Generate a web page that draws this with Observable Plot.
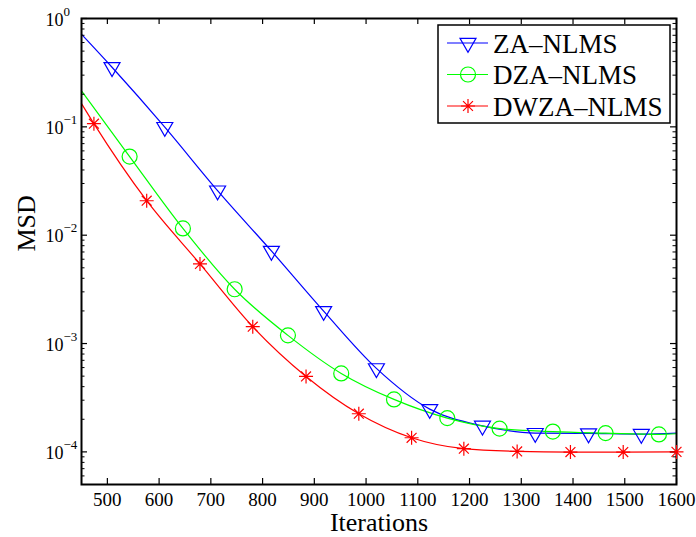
<!DOCTYPE html>
<html><head><meta charset="utf-8">
<script src="https://cdn.jsdelivr.net/npm/d3@7"></script>
<script src="https://cdn.jsdelivr.net/npm/@observablehq/plot@0.6"></script>
<style>body{margin:0;background:#fff}#chart{width:696px;height:537px}</style>
</head><body><div id="chart"></div>
<script>
// ---- data ----
const zaIter = [450, 509, 611, 713, 817, 918, 1020, 1123, 1225, 1327, 1430, 1532, 1600];
const zaMSD  = [0.715, 0.355, 0.0994, 0.0258, 0.00715, 0.00199, 0.00059, 0.000248, 0.000174, 0.000149, 0.000148, 0.000146, 0.000149];
const zaMarked = [0,1,1,1,1,1,1,1,1,1,1,1,0];

const dzaIter = [450, 543, 646, 746, 849, 952, 1054, 1157, 1258, 1361, 1463, 1566, 1600];
const dzaMSD  = [0.215, 0.0532, 0.01155, 0.00317, 0.00119, 0.00053, 0.000305, 0.000205, 0.000164, 0.000154, 0.000149, 0.000145, 0.000147];
const dzaMarked = [0,1,1,1,1,1,1,1,1,1,1,1,0];

const dwzaIter = [450, 474, 576, 679, 781, 884, 986, 1088, 1189, 1292, 1395, 1497, 1600];
const dwzaMSD  = [0.164, 0.107, 0.0208, 0.00543, 0.00143, 0.000497, 0.000225, 0.000135, 0.000107, 0.000101, 0.0000996, 0.0000996, 0.0001];
const dwzaMarked = [0,1,1,1,1,1,1,1,1,1,1,1,1];

const seriesNames  = ["ZA–NLMS", "DZA–NLMS", "DWZA–NLMS"];
const seriesColors = ["#0000ff", "#00ff00", "#ff0000"];

const xTicks = [500, 600, 700, 800, 900, 1000, 1100, 1200, 1300, 1400, 1500, 1600];
const yMajor = [1e-4, 1e-3, 1e-2, 1e-1, 1];
const yExpLabels = ["−4", "−3", "−2", "−1", "0"];
const xLabel = "Iterations";
const yLabel = "MSD";

// ---- layout ----
const W = 696, H = 537, mL = 81, mR = 20, mT = 18, mB = 53;
const pw = W - mL - mR, ph = H - mT - mB;
const FONT = "'Liberation Serif', 'Times New Roman', Times, serif";

const yMinor = [];
for (let e = -5; e < 0; e++) for (let k = 2; k <= 9; k++) {
  const v = k * Math.pow(10, e);
  if (v > 5e-5 && v < 1) yMinor.push(v);
}

// ---- custom MATLAB-like marker symbols ----
const triDown = {draw(ctx, size) {
  const r = Math.sqrt(size / Math.PI), h = r * Math.sqrt(3);
  ctx.moveTo(-r, -h / 3); ctx.lineTo(r, -h / 3); ctx.lineTo(0, 2 * h / 3); ctx.closePath();
}};
const circ = {draw(ctx, size) {
  const r = Math.sqrt(size / Math.PI);
  ctx.moveTo(r, 0); ctx.arc(0, 0, r, 0, 2 * Math.PI);
}};
const star = {draw(ctx, size) {
  const r = Math.sqrt(size / Math.PI), d = r * Math.SQRT1_2;
  ctx.moveTo(-r, 0); ctx.lineTo(r, 0); ctx.moveTo(0, -r); ctx.lineTo(0, r);
  ctx.moveTo(-d, -d); ctx.lineTo(d, d); ctx.moveTo(-d, d); ctx.lineTo(d, -d);
}};
const symbols = [triDown, circ, star];
const symR = [8, 7.5, 7];

const series = [
  {iter: zaIter, msd: zaMSD, marked: zaMarked},
  {iter: dzaIter, msd: dzaMSD, marked: dzaMarked},
  {iter: dwzaIter, msd: dwzaMSD, marked: dwzaMarked}
].map((s, i) => s.iter.map((x, j) => ({iter: x, msd: s.msd[j], marked: !!s.marked[j], series: seriesNames[i]})));

const marks = [];
series.forEach((rows, i) => {
  marks.push(Plot.line(rows, {x: "iter", y: "msd", stroke: seriesColors[i], strokeWidth: 1.2, curve: "monotone-x"}));
});
marks.push(Plot.frame({stroke: "black", strokeWidth: 2}));
// inward ticks on all four sides
marks.push(Plot.tickX(xTicks, {x: d => d, insetTop: ph - 6, stroke: "black", strokeWidth: 1.2}));
marks.push(Plot.tickX(xTicks, {x: d => d, insetBottom: ph - 6, stroke: "black", strokeWidth: 1.2}));
marks.push(Plot.tickY(yMajor, {y: d => d, insetRight: pw - 6, stroke: "black", strokeWidth: 1.2}));
marks.push(Plot.tickY(yMajor, {y: d => d, insetLeft: pw - 6, stroke: "black", strokeWidth: 1.2}));
marks.push(Plot.tickY(yMinor, {y: d => d, insetRight: pw - 3.5, stroke: "black", strokeWidth: 1}));
marks.push(Plot.tickY(yMinor, {y: d => d, insetLeft: pw - 3.5, stroke: "black", strokeWidth: 1}));
series.forEach((rows, i) => {
  marks.push(Plot.dot(rows.filter(d => d.marked), {x: "iter", y: "msd", symbol: symbols[i], r: symR[i], stroke: seriesColors[i], fill: "none", strokeWidth: 1.2}));
});
// tick labels
marks.push(Plot.text(xTicks, {x: d => d, text: d => String(d), frameAnchor: "bottom", lineAnchor: "top", dy: 8, fontSize: 19, fill: "black"}));
marks.push(Plot.text(yMajor, {y: d => d, text: () => "10", frameAnchor: "left", textAnchor: "start", dx: -36, dy: 1.5, fontSize: 18, fill: "black"}));
marks.push(Plot.text(yMajor, {y: d => d, text: (d, i) => yExpLabels[i], frameAnchor: "left", textAnchor: "start", dx: -18, dy: -7, fontSize: 13, fill: "black"}));
// axis labels
marks.push(Plot.text([xLabel], {text: d => d, frameAnchor: "bottom", lineAnchor: "bottom", dy: 46.5, fontSize: 26, fill: "black"}));
marks.push(Plot.text([yLabel], {text: d => d, frameAnchor: "left", rotate: -90, dx: -55, fontSize: 26, fill: "black"}));

const chart = Plot.plot({
  width: W, height: H,
  marginLeft: mL, marginRight: mR, marginTop: mT, marginBottom: mB,
  style: {fontFamily: FONT, background: "white", color: "black", overflow: "visible"},
  x: {type: "linear", domain: [450, 1600], axis: null},
  y: {type: "log", domain: [5e-5, 1], axis: null},
  marks
});
document.getElementById("chart").appendChild(chart);

// ---- legend (MATLAB-style box, top right inside axes) ----
const svg = d3.select(chart);
const lw = 232, lh = 98;
const bx = W - mR - 6 - lw, by = mT + 7;
const lg = svg.append("g").attr("font-family", FONT).attr("text-anchor", "start");
lg.append("rect").attr("x", bx).attr("y", by).attr("width", lw).attr("height", lh)
  .attr("fill", "white").attr("stroke", "black").attr("stroke-width", 1.5);
seriesNames.forEach((name, i) => {
  const cy = by + 18 + i * 31.5;
  lg.append("line").attr("x1", bx + 9).attr("x2", bx + 50).attr("y1", cy).attr("y2", cy)
    .attr("stroke", seriesColors[i]).attr("stroke-width", 1.2);
  lg.append("path").attr("d", d3.symbol(symbols[i], symR[i] * symR[i] * Math.PI)())
    .attr("transform", `translate(${bx + 30},${cy})`)
    .attr("fill", "none").attr("stroke", seriesColors[i]).attr("stroke-width", 1.2);
  lg.append("text").attr("x", bx + 55).attr("y", cy + 9.5).attr("font-size", 27)
    .attr("text-anchor", "start").attr("fill", "black").text(name);
});
</script>
</body></html>
